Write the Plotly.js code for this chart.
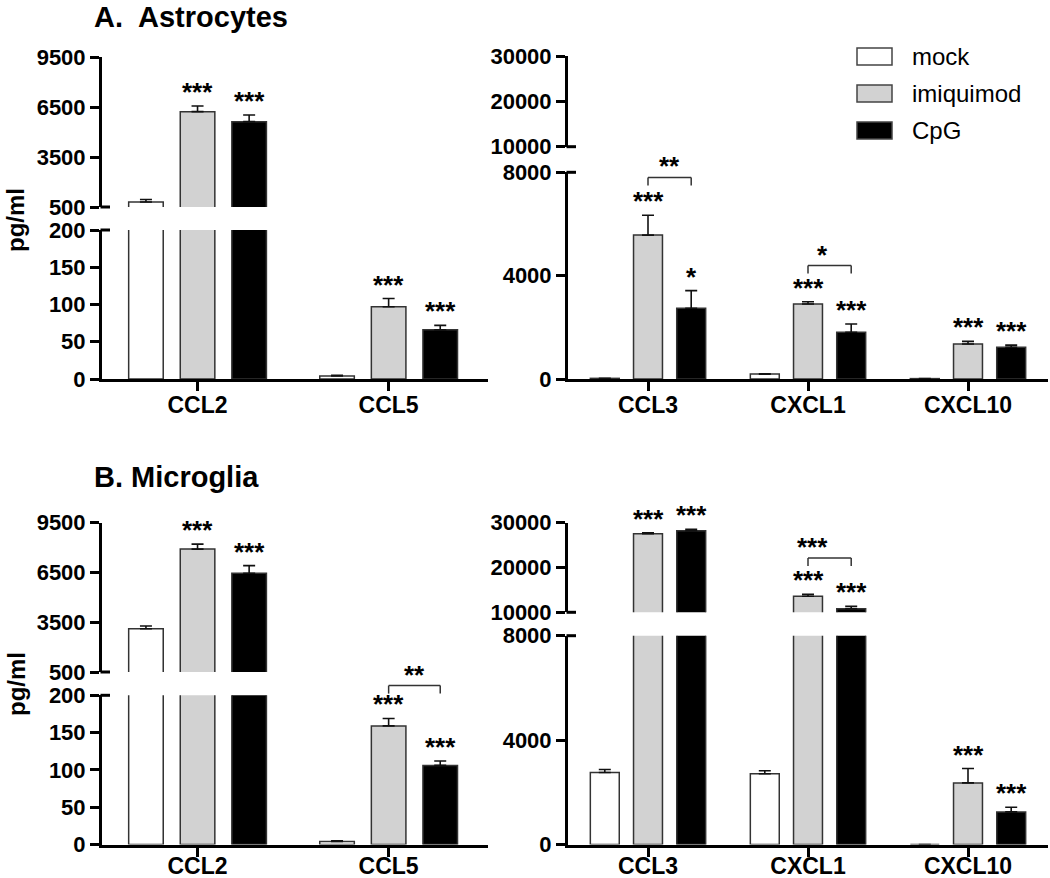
<!DOCTYPE html>
<html><head><meta charset="utf-8">
<script src="https://cdn.plot.ly/plotly-3.0.1.min.js"></script>
<style>html,body{margin:0;padding:0;background:#fff}#chart{width:1050px;height:878px}</style>
</head><body><div id="chart"></div>
<script>
// ---------------- DATA ----------------
const seriesNames = ['mock', 'imiquimod', 'CpG'];

// A. Astrocytes - left
const astroLeftCats = ['CCL2', 'CCL5'];
const astroLeftMock = [800, 4];
const astroLeftMockErr = [150, 1];
const astroLeftImiq = [6220, 97];
const astroLeftImiqErr = [340, 11];
const astroLeftCpG = [5620, 66];
const astroLeftCpGErr = [400, 6];
const astroLeftStars = [['', ''], ['***', '***'], ['***', '***']];
const astroLeftBrackets = [];

// A. Astrocytes - right
const astroRightCats = ['CCL3', 'CXCL1', 'CXCL10'];
const astroRightMock = [25, 190, 15];
const astroRightMockErr = [5, 15, 3];
const astroRightImiq = [5570, 2900, 1355];
const astroRightImiqErr = [770, 90, 100];
const astroRightCpG = [2740, 1810, 1230];
const astroRightCpGErr = [680, 320, 80];
const astroRightStars = [['', '', ''], ['***', '***', '***'], ['*', '***', '***']];
const astroRightBrackets = [{cat: 0, y: 7800, label: '**'}, {cat: 1, y: 4390, label: '*'}];

// B. Microglia - left
const microLeftCats = ['CCL2', 'CCL5'];
const microLeftMock = [3110, 4];
const microLeftMockErr = [160, 1];
const microLeftImiq = [7910, 159];
const microLeftImiqErr = [300, 10];
const microLeftCpG = [6450, 106];
const microLeftCpGErr = [460, 6];
const microLeftStars = [['', ''], ['***', '***'], ['***', '***']];
const microLeftBrackets = [{cat: 1, y: 213, label: '**'}];

// B. Microglia - right
const microRightCats = ['CCL3', 'CXCL1', 'CXCL10'];
const microRightMock = [2760, 2710, 0];
const microRightMockErr = [115, 115, 0];
const microRightImiq = [27550, 13590, 2360];
const microRightImiqErr = [220, 450, 550];
const microRightCpG = [28220, 10820, 1250];
const microRightCpGErr = [300, 530, 180];
const microRightStars = [['', '', ''], ['***', '***', '***'], ['***', '***', '***']];
const microRightBrackets = [{cat: 1, y: 22100, label: '***'}];

// Axis ticks
const leftTopTicks = [500, 3500, 6500, 9500];
const leftBottomTicks = [0, 50, 100, 150, 200];
const rightTopTicks = [10000, 20000, 30000];
const rightBottomTicks = [0, 4000, 8000];

const panelTitles = ['A.  Astrocytes', 'B. Microglia'];
const yTitle = 'pg/ml';

// ---------------- STYLE / LAYOUT ----------------
const W = 1050, H = 878;
const px2x = p => p / W;
const px2y = p => 1 - p / H;
const FONT = 'Liberation Sans, Arial, Helvetica, sans-serif';
const colors = ['#ffffff', '#d2d2d2', '#000000'];
const barLine = '#333333';
const BARGAP = 0.19, BARGROUPGAP = 0.33;
const SLOT = (1 - BARGAP) / 3;

const panels = [
  {cats: astroLeftCats, vals: [astroLeftMock, astroLeftImiq, astroLeftCpG],
   errs: [astroLeftMockErr, astroLeftImiqErr, astroLeftCpGErr], stars: astroLeftStars, brackets: astroLeftBrackets,
   xPx: [102, 488], xRange: [-0.5, 1.52], labelShift: -6,
   top: {range: [500, 9500], ticks: leftTopTicks, px: [57, 207]},
   bot: {range: [0, 200], ticks: leftBottomTicks, px: [230, 379]}},
  {cats: astroRightCats, vals: [astroRightMock, astroRightImiq, astroRightCpG],
   errs: [astroRightMockErr, astroRightImiqErr, astroRightCpGErr], stars: astroRightStars, brackets: astroRightBrackets,
   xPx: [568, 1048], xRange: [-0.5, 2.5], labelShift: -6,
   top: {range: [10000, 30000], ticks: rightTopTicks, px: [56, 146.7]},
   bot: {range: [0, 8000], ticks: rightBottomTicks, px: [172.3, 379]}},
  {cats: microLeftCats, vals: [microLeftMock, microLeftImiq, microLeftCpG],
   errs: [microLeftMockErr, microLeftImiqErr, microLeftCpGErr], stars: microLeftStars, brackets: microLeftBrackets,
   xPx: [102, 488], xRange: [-0.5, 1.52], labelShift: -10,
   top: {range: [500, 9500], ticks: leftTopTicks, px: [522.7, 672]},
   bot: {range: [0, 200], ticks: leftBottomTicks, px: [695.3, 844.5]}},
  {cats: microRightCats, vals: [microRightMock, microRightImiq, microRightCpG],
   errs: [microRightMockErr, microRightImiqErr, microRightCpGErr], stars: microRightStars, brackets: microRightBrackets,
   xPx: [568, 1048], xRange: [-0.5, 2.5], labelShift: -10,
   top: {range: [10000, 30000], ticks: rightTopTicks, px: [522.7, 612.3]},
   bot: {range: [0, 8000], ticks: rightBottomTicks, px: [635.7, 844.5]}}
];

const traces = [];
const layout = {
  width: W, height: H, margin: {l: 0, r: 0, t: 0, b: 0},
  paper_bgcolor: '#fff', plot_bgcolor: 'rgba(0,0,0,0)',
  barmode: 'group', bargap: BARGAP, bargroupgap: BARGROUPGAP,
  showlegend: false, font: {family: FONT, color: '#000'},
  annotations: [], shapes: []
};
const sfx = n => (n === 1 ? '' : String(n));
const starFont = {family: FONT, size: 26, weight: 'bold', color: '#000'};

panels.forEach((p, i) => {
  const segs = [{seg: p.top, n: 2 * i + 1, bottom: false}, {seg: p.bot, n: 2 * i + 2, bottom: true}];
  segs.forEach(({seg, n, bottom}) => {
    const s = sfx(n);
    for (let k = 0; k < 3; k++) {
      traces.push({
        type: 'bar', x: p.cats, y: p.vals[k], name: seriesNames[k],
        xaxis: 'x' + s, yaxis: 'y' + s, showlegend: false, hoverinfo: 'skip',
        marker: {color: colors[k], line: {color: barLine, width: 1.5}},
        error_y: {type: 'data', symmetric: false, array: p.errs[k], arrayminus: p.errs[k].map(() => 0),
                  visible: true, color: '#111', thickness: 1.6, width: 6}
      });
    }
    layout['xaxis' + s] = {
      domain: [px2x(p.xPx[0]), px2x(p.xPx[1])], range: p.xRange, type: 'category',
      anchor: 'y' + s, showline: bottom, linewidth: 3, linecolor: '#000',
      ticks: bottom ? 'outside' : '', ticklen: 9, tickwidth: 3, tickcolor: '#000',
      ticklabelstandoff: p.labelShift,
      showticklabels: bottom, tickfont: {family: FONT, size: 23, weight: 'bold', color: '#000'},
      showgrid: false, zeroline: false, fixedrange: true
    };
    layout['yaxis' + s] = {
      domain: [px2y(seg.px[1]), px2y(seg.px[0])], range: seg.range, tickvals: seg.ticks,
      ticktext: seg.ticks.map(String), anchor: 'x' + s, showline: true, linewidth: 3, linecolor: '#000',
      ticks: 'outside', ticklen: 9, tickwidth: 3, tickcolor: '#000',
      tickfont: {family: FONT, size: 22, weight: 'bold', color: '#000'},
      showgrid: false, zeroline: false, fixedrange: true
    };
  });

  // helpers data -> paper
  const xd = [px2x(p.xPx[0]), px2x(p.xPx[1])];
  const toPX = v => xd[0] + (v - p.xRange[0]) / (p.xRange[1] - p.xRange[0]) * (xd[1] - xd[0]);
  const toPY = (seg, v) => {
    const d0 = px2y(seg.px[1]), d1 = px2y(seg.px[0]);
    return d0 + (v - seg.range[0]) / (seg.range[1] - seg.range[0]) * (d1 - d0);
  };
  const segOf = v => (v >= p.top.range[0] ? {seg: p.top, n: 2 * i + 1} : {seg: p.bot, n: 2 * i + 2});

  // break marks (axis crossing ticks)
  [p.top.px[1], p.bot.px[0]].forEach(py => {
    layout.shapes.push({type: 'line', xref: 'paper', yref: 'paper',
      x0: px2x(p.xPx[0] - 1.5), x1: px2x(p.xPx[0] + 8), y0: px2y(py), y1: px2y(py),
      line: {color: '#000', width: 3}});
  });

  // significance stars
  for (let k = 0; k < 3; k++) {
    p.cats.forEach((c, j) => {
      const t = p.stars[k][j];
      if (!t) return;
      const top = p.vals[k][j] + p.errs[k][j];
      const sg = segOf(top);
      layout.annotations.push({
        x: j + (k - 1) * SLOT, y: top, xref: 'x' + sfx(sg.n), yref: 'y' + sfx(sg.n),
        text: t, showarrow: false, yanchor: 'bottom', yshift: -3, font: starFont
      });
    });
  }

  // brackets imiquimod vs CpG
  p.brackets.forEach(b => {
    const sg = segOf(b.y);
    const x0 = toPX(b.cat), x1 = toPX(b.cat + SLOT);
    const y = toPY(sg.seg, b.y), yl = y - 8 / H;
    const ln = {color: '#333', width: 1.5};
    layout.shapes.push({type: 'line', xref: 'paper', yref: 'paper', x0: x0, x1: x1, y0: y, y1: y, line: ln});
    layout.shapes.push({type: 'line', xref: 'paper', yref: 'paper', x0: x0, x1: x0, y0: y, y1: yl, line: ln});
    layout.shapes.push({type: 'line', xref: 'paper', yref: 'paper', x0: x1, x1: x1, y0: y, y1: yl, line: ln});
    layout.annotations.push({x: (x0 + x1) / 2, y: y, xref: 'paper', yref: 'paper', text: b.label,
      showarrow: false, yanchor: 'bottom', yshift: -6, font: starFont});
  });
});

// panel titles and y titles
[[17, 220], [477, 684]].forEach((pos, r) => {
  layout.annotations.push({x: px2x(92), y: px2y(pos[0]), xref: 'paper', yref: 'paper', xanchor: 'left',
    yanchor: 'middle', text: panelTitles[r], showarrow: false,
    font: {family: FONT, size: 29, weight: 'bold', color: '#000'}});
  layout.annotations.push({x: px2x(16), y: px2y(pos[1]), xref: 'paper', yref: 'paper', xanchor: 'center',
    yanchor: 'middle', text: yTitle, textangle: -90, showarrow: false,
    font: {family: FONT, size: 24, weight: 'bold', color: '#000'}});
});

// manual legend
seriesNames.forEach((nm, k) => {
  const cy = 56.5 + k * 37;
  layout.shapes.push({type: 'rect', xref: 'paper', yref: 'paper',
    x0: px2x(857), x1: px2x(892), y0: px2y(cy - 8.5), y1: px2y(cy + 8.5),
    fillcolor: colors[k], line: {color: '#444', width: 1.5}});
  layout.annotations.push({x: px2x(910), y: px2y(cy), xref: 'paper', yref: 'paper', xanchor: 'left',
    yanchor: 'middle', text: nm, showarrow: false, font: {family: FONT, size: 24, color: '#000'}});
});

Plotly.newPlot('chart', traces, layout, {staticPlot: true, displayModeBar: false});
</script>
</body></html>
